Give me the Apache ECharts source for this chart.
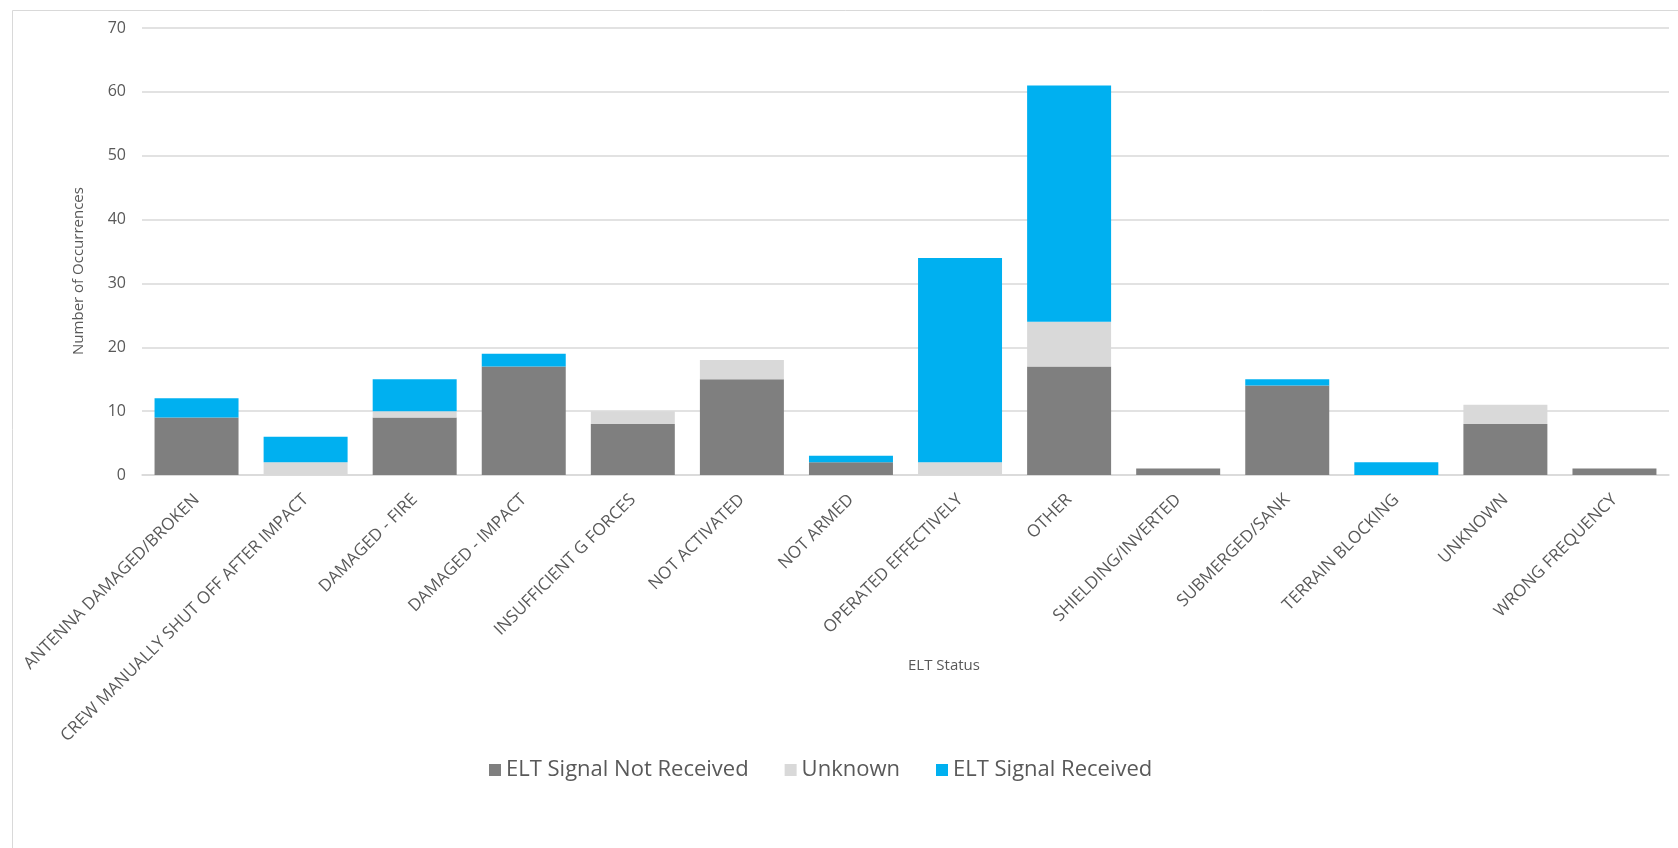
<!DOCTYPE html>
<html>
<head>
<meta charset="utf-8">
<script src="https://cdn.jsdelivr.net/npm/echarts@6/dist/echarts.min.js"></script>
<style>
html,body{margin:0;padding:0;background:#fff;}
#chart{width:1678px;height:848px;}
</style>
</head>
<body>
<div id="chart"></div>
<script>
var categories = [
  "ANTENNA DAMAGED/BROKEN",
  "CREW MANUALLY SHUT OFF AFTER IMPACT",
  "DAMAGED - FIRE",
  "DAMAGED - IMPACT",
  "INSUFFICIENT G FORCES",
  "NOT ACTIVATED",
  "NOT ARMED",
  "OPERATED EFFECTIVELY",
  "OTHER",
  "SHIELDING/INVERTED",
  "SUBMERGED/SANK",
  "TERRAIN BLOCKING",
  "UNKNOWN",
  "WRONG FREQUENCY"
];
var signalNotReceived = [9, 0, 9, 17, 8, 15, 2, 0, 17, 1, 14, 0, 8, 1];
var unknown          = [0, 2, 1, 0, 2, 3, 0, 2, 7, 0, 0, 0, 3, 0];
var signalReceived   = [3, 4, 5, 2, 0, 0, 1, 32, 37, 0, 1, 2, 0, 0];
var seriesNames = ["ELT Signal Not Received", "Unknown", "ELT Signal Received"];
var yTicks = {min: 0, max: 70, interval: 10};

var FONT = "'Open Sans', 'Noto Sans', sans-serif";
var TXT = "#595959";

var chart = echarts.init(document.getElementById('chart'), null, {renderer: 'canvas'});
chart.setOption({
  animation: false,
  backgroundColor: '#fff',
  textStyle: {fontFamily: FONT},
  grid: {left: 142, right: 9, top: 28, bottom: 373, containLabel: false},
  legend: {
    left: 484, top: 754,
    itemWidth: 12, itemHeight: 12, itemGap: 36,
    icon: 'rect',
    textStyle: {fontSize: 22, color: TXT, fontFamily: FONT},
    data: seriesNames
  },
  xAxis: {
    type: 'category',
    data: categories,
    axisLine: {show: true, lineStyle: {color: '#d9d9d9', width: 1.5}},
    axisTick: {show: false},
    axisLabel: {rotate: 45, interval: 0, fontSize: 17, color: TXT, fontFamily: FONT, margin: 22}
  },
  yAxis: {
    type: 'value',
    min: yTicks.min, max: yTicks.max, interval: yTicks.interval,
    axisLine: {show: false},
    axisTick: {show: false},
    axisLabel: {fontSize: 16, color: TXT, fontFamily: FONT, margin: 16},
    splitLine: {lineStyle: {color: '#d9d9d9', width: 1.5}}
  },
  graphic: [
    {type: 'rect', left: 10, top: 8, shape: {width: 1700, height: 900}, style: {fill: 'none', stroke: '#d9d9d9', lineWidth: 1}, silent: true, z: -1},
    {type: 'text', x: 79, y: 271, rotation: Math.PI / 2,
     style: {text: 'Number of Occurrences', fontSize: 15, fill: TXT, fontFamily: FONT, align: 'center', verticalAlign: 'middle'}},
    {type: 'text', x: 944, y: 666,
     style: {text: 'ELT Status', fontSize: 15, fill: TXT, fontFamily: FONT, align: 'center', verticalAlign: 'middle'}}
  ],
  series: [
    {name: seriesNames[0], type: 'bar', stack: 'all', data: signalNotReceived, barCategoryGap: '23%', itemStyle: {color: '#7f7f7f'}},
    {name: seriesNames[1], type: 'bar', stack: 'all', data: unknown, itemStyle: {color: '#d9d9d9'}},
    {name: seriesNames[2], type: 'bar', stack: 'all', data: signalReceived, itemStyle: {color: '#00b0f0'}}
  ]
});
</script>
</body>
</html>
